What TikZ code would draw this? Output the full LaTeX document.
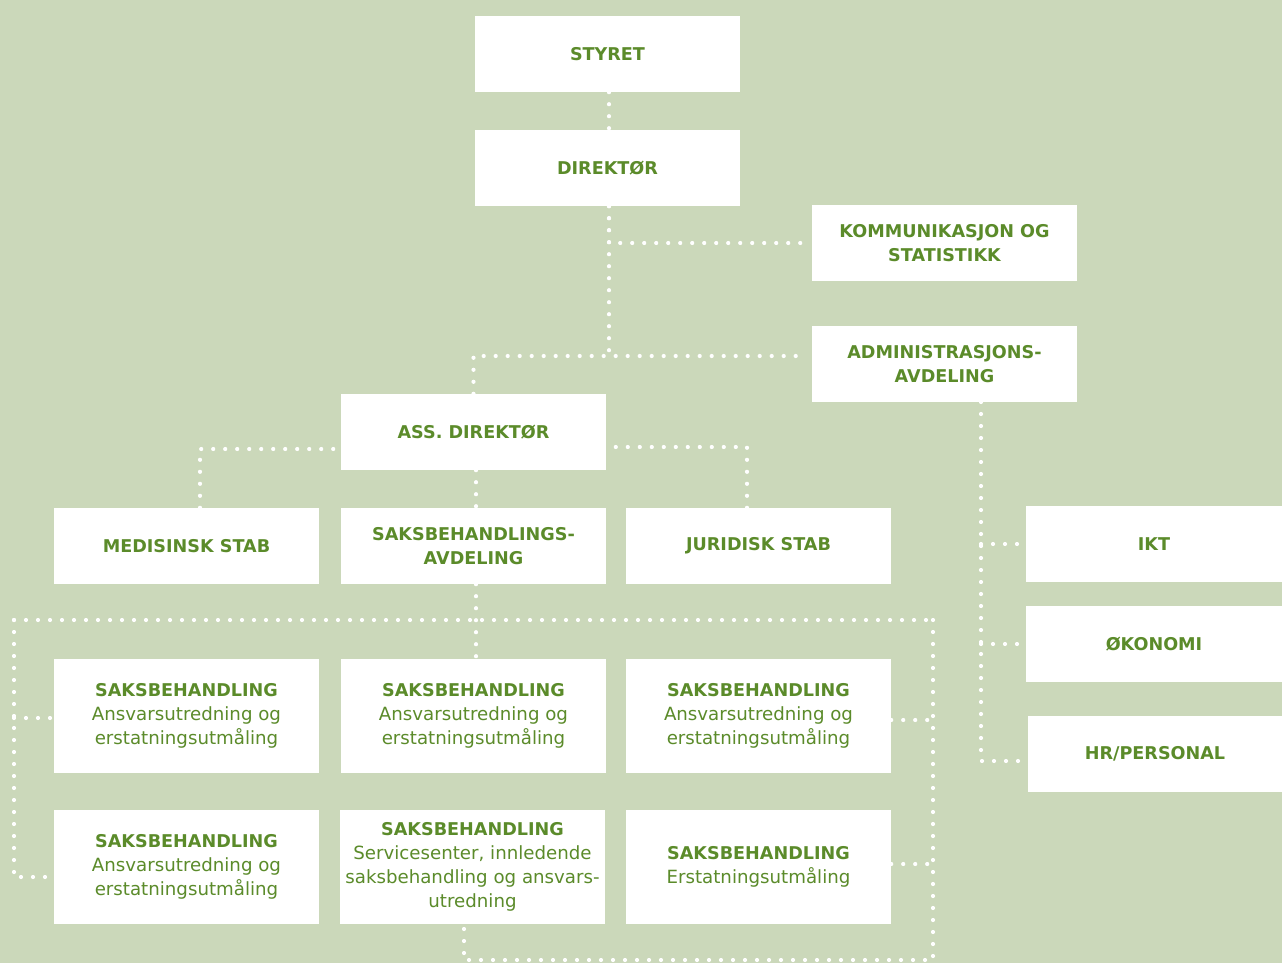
\documentclass[tikz,border=0pt]{standalone}
\usepackage{fontspec}
\setmainfont{DejaVu Sans}
\usetikzlibrary{calc}
\definecolor{bg}{RGB}{203,216,186}
\definecolor{tg}{RGB}{91,139,42}
\newcommand{\sub}{\fontsize{18.2}{24}\selectfont\mdseries}
\begin{document}
\begin{tikzpicture}[x=1pt,y=-1pt,
  box/.style={fill=white,text=tg,align=center,inner sep=0pt,
    minimum width=265pt,minimum height=76pt,font=\fontsize{17.6}{24}\selectfont\bfseries},
  tallbox/.style={box,minimum height=114pt},
  conn/.style={draw=white,line width=4.2pt,line cap=round,dash pattern=on 0pt off 12pt}]
\fill[bg] (0,0) rectangle (1282,963);
\useasboundingbox (0,0) rectangle (1282,963);
% nodes
\node[box] (styret) at (607.5,54) {STYRET};
\node[box] (dir) at (607.5,168) {DIREKTØR};
\node[box] (komm) at (944.5,243) {KOMMUNIKASJON OG\\STATISTIKK};
\node[box] (admin) at (944.5,364) {ADMINISTRASJONS-\\AVDELING};
\node[box] (ass) at (473.5,432) {ASS. DIREKTØR};
\node[box] (med) at (186.5,546) {MEDISINSK STAB};
\node[box] (savd) at (473.5,546) {SAKSBEHANDLINGS-\\AVDELING};
\node[box] (jur) at (758.5,546) {JURIDISK STAB};
\node[box,minimum width=256pt] (ikt) at (1154,544) {IKT};
\node[box,minimum width=256pt] (oko) at (1154,644) {ØKONOMI};
\node[box,minimum width=254pt] (hr) at (1155,754) {HR/PERSONAL};
\node[tallbox] (r1a) at (186.5,716) {SAKSBEHANDLING\\\sub Ansvarsutredning og\\\sub erstatningsutmåling};
\node[tallbox] (r1b) at (473.5,716) {SAKSBEHANDLING\\\sub Ansvarsutredning og\\\sub erstatningsutmåling};
\node[tallbox] (r1c) at (758.5,716) {SAKSBEHANDLING\\\sub Ansvarsutredning og\\\sub erstatningsutmåling};
\node[tallbox] (r2a) at (186.5,867) {SAKSBEHANDLING\\\sub Ansvarsutredning og\\\sub erstatningsutmåling};
\node[tallbox] (r2b) at (472.5,867) {SAKSBEHANDLING\\\sub Servicesenter, innledende\\\sub saksbehandling og ansvars-\\\sub utredning};
\node[tallbox] (r2c) at (758.5,867) {SAKSBEHANDLING\\\sub Erstatningsutmåling};
% connectors
\draw[conn] ($(styret.south)+(1.5,0)$) -- ($(dir.north)+(1.5,0)$);
\coordinate (a1) at (473.5,356);
\draw[conn] ($(dir.south)+(1.5,0)$) |- ($(komm.west)+(-6,0)$);
\draw[conn] ($(dir.south)+(1.5,0)$) -- ($(dir.south |- a1)+(1.5,0)$);
\draw[conn] (ass.north) -- (a1) -- ($(a1 -| admin.west)+(-6,0)$);
\draw[conn] ($(med.north)+(13.5,0)$) |- ($(ass.west)+(0,17)$);
\draw[conn] ($(jur.north)+(-11.5,0)$) |- ($(ass.east)+(0,15)$);
\draw[conn] ($(ass.south)+(2.5,0)$) -- ($(savd.north)+(2.5,0)$);
\draw[conn] ($(savd.south)+(2.5,0)$) -- ($(r1b.north)+(2.5,0)$);
\coordinate (L) at (14,620);
\coordinate (R) at (933,620);
\coordinate (BR) at (933,960);
\draw[conn] (L) -- (R);
\draw[conn] (L) |- ($(r2a.west)+(0,10)$);
\draw[conn] ($(L |- r1a.west)+(0,2)$) -- ($(r1a.west)+(0,2)$);
\draw[conn] (R) -- (BR) -| ($(r2b.south)+(-8.5,0)$);
\draw[conn] ($(r1c.east)+(0,4)$) -- ($(r1c.east -| R)+(0,4)$);
\draw[conn] ($(r2c.east)+(0,-3)$) -- ($(r2c.east -| R)+(0,-3)$);
\coordinate (av) at (981,402);
\draw[conn] (av) |- ($(hr.west)+(0,7)$);
\draw[conn] (av |- ikt.west) -- (ikt.west);
\draw[conn] (av |- oko.west) -- (oko.west);
\end{tikzpicture}
\end{document}
